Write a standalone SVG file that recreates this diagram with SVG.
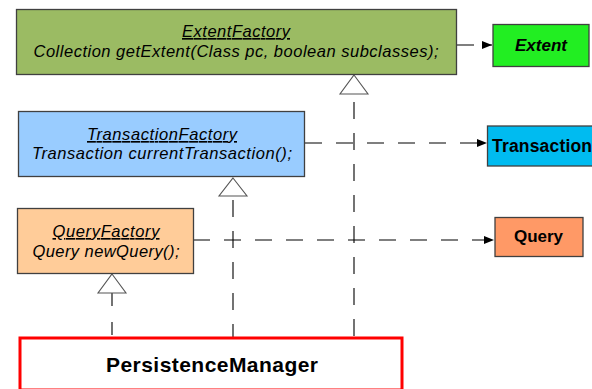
<svg xmlns="http://www.w3.org/2000/svg" width="592" height="389" viewBox="0 0 592 389">
<defs>
<style>
.box{stroke:#404040;stroke-width:1.3}
.it{font-family:"Liberation Sans",Arial,sans-serif;font-style:italic;font-size:16.5px;fill:#000;text-anchor:middle}
.u{text-decoration:underline}
.b{font-family:"Liberation Sans",Arial,sans-serif;font-weight:bold;fill:#000;text-anchor:middle}
.dash{stroke:#000;stroke-width:1.1;fill:none;stroke-dasharray:17,14}
.tri{fill:#fff;stroke:#555;stroke-width:1.1}
</style>
<marker id="ah" viewBox="0 0 10 10" refX="10" refY="5" markerWidth="10" markerHeight="10" markerUnits="userSpaceOnUse" orient="auto">
<path d="M0,1 L10,5 L0,9 Z" fill="#000"/>
</marker>
</defs>
<rect width="592" height="389" fill="#fff"/>
<g id="connectors">
<line class="dash" x1="457" y1="45" x2="492" y2="45" marker-end="url(#ah)"/>
<line class="dash" x1="305" y1="143" x2="487" y2="143" marker-end="url(#ah)"/>
<line class="dash" x1="193" y1="240" x2="494" y2="240" marker-end="url(#ah)"/>
<line class="dash" x1="354" y1="102" x2="354" y2="337"/>
<line class="dash" x1="233" y1="196" x2="233" y2="337" style="stroke-dashoffset:-4"/>
<line class="dash" x1="112" y1="293" x2="112" y2="337" style="stroke-dasharray:13,16"/>
<polygon class="tri" points="354,75 368,94 340,94"/>
<polygon class="tri" points="233,178 247,196 219,196"/>
<polygon class="tri" points="112,274 126,293 98,293"/>
</g>
<g id="ExtentFactory">
<rect class="box" x="16.5" y="9.5" width="440" height="65" fill="#9bbb63"/>
<text class="it u" x="236" y="37" textLength="108">ExtentFactory</text>
<text class="it" x="236" y="57" textLength="405">Collection getExtent(Class pc, boolean subclasses);</text>
</g>
<g id="Extent">
<rect class="box" x="493" y="24.5" width="96" height="42" fill="#22ee22"/>
<text class="b" x="541" y="50.5" font-size="17" font-style="italic">Extent</text>
</g>
<g id="TransactionFactory">
<rect class="box" x="18.5" y="111.5" width="286" height="65" fill="#99ccff"/>
<text class="it u" x="162" y="140" textLength="150">TransactionFactory</text>
<text class="it" x="162" y="159" textLength="260">Transaction currentTransaction();</text>
</g>
<g id="Transaction">
<rect class="box" x="487.5" y="126" width="110" height="40" fill="#00bbf0"/>
<text class="b" x="492" y="152" font-size="17.5" style="text-anchor:start" textLength="100">Transaction</text>
</g>
<g id="QueryFactory">
<rect class="box" x="17.5" y="208.5" width="176" height="65" fill="#ffcc99"/>
<text class="it u" x="106" y="237" textLength="107">QueryFactory</text>
<text class="it" x="106" y="257" textLength="147">Query newQuery();</text>
</g>
<g id="Query">
<rect class="box" x="495" y="217.5" width="88" height="39" fill="#ff9966"/>
<text class="b" x="538.5" y="242" font-size="17">Query</text>
</g>
<g id="PersistenceManager">
<rect x="20" y="338" width="382" height="52" fill="#fff" stroke="#ff0000" stroke-width="3"/>
<text class="b" x="212" y="371.5" font-size="21" textLength="212">PersistenceManager</text>
</g>
</svg>
